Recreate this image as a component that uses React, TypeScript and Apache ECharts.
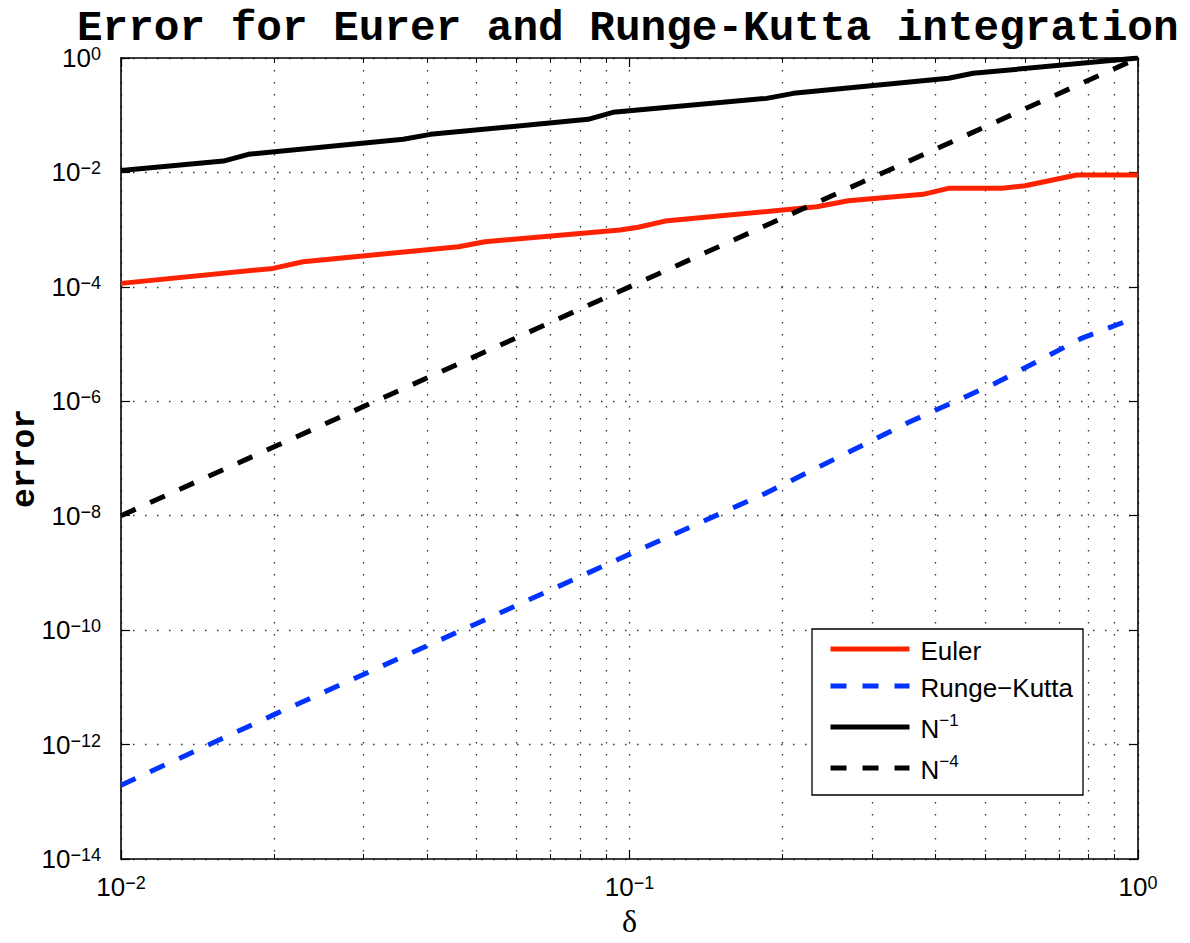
import React, { useEffect, useRef } from "react";
import * as echarts from "echarts";

// ---- data ----
const eulerDelta = [0.01, 0.0199, 0.0228, 0.0461, 0.052, 0.0958, 0.104, 0.1174, 0.2334, 0.2694, 0.378, 0.4236, 0.54, 0.5996, 0.7576, 1];
const eulerError = [1.15e-4, 2.1e-4, 2.75e-4, 5.02e-4, 6.14e-4, 9.84e-4, 1.1e-3, 1.41e-3, 2.51e-3, 3.2e-3, 4.14e-3, 5.27e-3, 5.27e-3, 5.85e-3, 9.0e-3, 9.0e-3];

const rkDelta = [0.01, 0.0199, 0.0501, 0.0958, 0.186, 0.356, 0.524, 0.774, 1];
const rkError = [1.95e-13, 3.27e-12, 1.31e-10, 1.79e-9, 2.51e-8, 4.39e-7, 2.06e-6, 1.26e-5, 3.0e-5];

const n1Delta = [0.01, 0.0159, 0.0178, 0.0359, 0.0406, 0.0829, 0.0928, 0.186, 0.21, 0.424, 0.474, 1];
const n1Error = [0.0108, 0.0158, 0.0207, 0.0379, 0.0463, 0.0847, 0.1125, 0.197, 0.241, 0.442, 0.54, 1];

const n4Delta = [0.01, 1];
const n4Error = [1e-8, 1];

const yTickValues = [1e-14, 1e-12, 1e-10, 1e-8, 1e-6, 1e-4, 1e-2, 1];
const xTickValues = [0.01, 0.1, 1];

const seriesNames = ["Euler", "Runge−Kutta", "N-1", "N-4"];

const SANS = "Liberation Sans";
const MONO = "Liberation Mono";
const LW = 5;

const pairs = (xs: number[], ys: number[]) => xs.map((x, i) => [x, ys[i]]);

const supLabel = (v: number) => {
  const e = Math.round(Math.log10(v));
  return `{base|10}{sup|${e < 0 ? "−" + Math.abs(e) : String(e)}}`;
};

const labelRich = {
  base: { fontSize: 26, fontFamily: SANS, color: "#000", verticalAlign: "bottom", lineHeight: 26, padding: [4, 0, 0, 0] },
  sup: { fontSize: 18, fontFamily: SANS, color: "#000", verticalAlign: "top", lineHeight: 18 },
};

const gridLine = { show: true, lineStyle: { color: "#333", width: 1.3, type: [1.5, 10.5] } };

export default function App() {
  const ref = useRef<HTMLDivElement>(null);
  useEffect(() => {
    if (!ref.current) return;
    const chart = echarts.init(ref.current, null, { renderer: "svg" });
    const axisLineStyle = { show: true, onZero: false, lineStyle: { color: "#000", width: 1.6 } };
    const option: any = {
      animation: false,
      backgroundColor: "#fff",
      textStyle: { fontFamily: SANS },
      title: {
        text: "Error for Eurer and Runge-Kutta integration",
        left: 72,
        top: 6,
        textStyle: { fontFamily: MONO, fontWeight: "bold", fontSize: 42.7, lineHeight: 34, color: "#000" },
      },
      grid: { left: 121, right: 52, top: 58, bottom: 84, containLabel: false, outerBoundsMode: "none" },
      legend: {
        data: seriesNames,
        orient: "vertical",
        left: 812,
        top: 629,
        itemWidth: 79,
        itemHeight: 14,
        itemGap: 11,
        padding: [9, 10, 12, 16],
        backgroundColor: "#fff",
        borderColor: "#000",
        borderWidth: 1.3,
        selectedMode: false,
        itemStyle: { color: "rgba(0,0,0,0)", borderWidth: 0, opacity: 0 },
        lineStyle: { width: LW },
        formatter: (name: string) => {
          if (name === "N-1") return "{n|N}{e|−1}";
          if (name === "N-4") return "{n|N}{e|−4}";
          return `{n|${name}}`;
        },
        textStyle: {
          color: "#000",
          fontFamily: SANS,
          fontSize: 26,
          rich: {
            n: { fontSize: 26, fontFamily: SANS, color: "#000", lineHeight: 30, verticalAlign: "bottom", padding: [0, 0, 0, 6] },
            e: { fontSize: 17, fontFamily: SANS, color: "#000", lineHeight: 18, verticalAlign: "top" },
          },
        },
      },
      xAxis: [
        {
          type: "log",
          logBase: 10,
          min: 0.01,
          max: 1,
          position: "bottom",
          axisLine: axisLineStyle,
          axisTick: { show: true, inside: true, length: 9, lineStyle: { color: "#000", width: 1.2 } },
          minorTick: { show: true, splitNumber: 9, length: 5, lineStyle: { color: "#000", width: 1 } },
          axisLabel: { show: true, margin: 15, fontSize: 26, fontFamily: SANS, color: "#000", formatter: supLabel, rich: labelRich, customValues: xTickValues },
          splitLine: gridLine,
          minorSplitLine: gridLine,
          name: "δ",
          nameLocation: "middle",
          nameGap: 46,
          nameMoveOverlap: false,
          nameTextStyle: { fontFamily: "Liberation Serif", fontSize: 32, color: "#000" },
        },
        {
          type: "log",
          logBase: 10,
          min: 0.01,
          max: 1,
          position: "top",
          axisLine: axisLineStyle,
          axisTick: { show: true, inside: true, length: 9, lineStyle: { color: "#000", width: 1.2 } },
          minorTick: { show: true, splitNumber: 9, length: 5, lineStyle: { color: "#000", width: 1 } },
          axisLabel: { show: false },
          splitLine: { show: false },
        },
      ],
      yAxis: [
        {
          type: "log",
          logBase: 10,
          min: 1e-14,
          max: 1,
          interval: 2,
          position: "left",
          axisLine: axisLineStyle,
          axisTick: { show: true, inside: true, length: 9, lineStyle: { color: "#000", width: 1.2 }, customValues: yTickValues },
          axisLabel: { show: true, margin: 20, fontSize: 26, fontFamily: SANS, color: "#000", formatter: supLabel, rich: labelRich, customValues: yTickValues },
          splitLine: gridLine,
          name: "error",
          nameLocation: "middle",
          nameGap: 79,
          nameRotate: 90,
          nameMoveOverlap: false,
          nameTextStyle: { fontFamily: MONO, fontWeight: "bold", fontSize: 33, color: "#000" },
        },
        {
          type: "log",
          logBase: 10,
          min: 1e-14,
          max: 1,
          interval: 2,
          position: "right",
          axisLine: axisLineStyle,
          axisTick: { show: true, inside: true, length: 9, lineStyle: { color: "#000", width: 1.2 }, customValues: yTickValues },
          axisLabel: { show: false },
          splitLine: { show: false },
        },
      ],
      series: [
        {
          name: seriesNames[0],
          type: "line",
          data: pairs(eulerDelta, eulerError),
          showSymbol: false,
          symbol: "none",
          color: "#ff2200",
          lineStyle: { color: "#ff2200", width: LW },
        },
        {
          name: seriesNames[1],
          type: "line",
          data: pairs(rkDelta, rkError),
          showSymbol: false,
          symbol: "none",
          color: "#0033ff",
          lineStyle: { color: "#0033ff", width: LW, type: [16, 16] },
        },
        {
          name: seriesNames[2],
          type: "line",
          data: pairs(n1Delta, n1Error),
          showSymbol: false,
          symbol: "none",
          color: "#000",
          lineStyle: { color: "#000", width: LW },
        },
        {
          name: seriesNames[3],
          type: "line",
          data: pairs(n4Delta, n4Error),
          showSymbol: false,
          symbol: "none",
          color: "#000",
          lineStyle: { color: "#000", width: LW, type: [16, 16] },
        },
      ],
    };
    chart.setOption(option);
    return () => chart.dispose();
  }, []);
  return <div ref={ref} style={{ position: "absolute", left: 0, top: 0, width: 1190, height: 943 }} />;
}
